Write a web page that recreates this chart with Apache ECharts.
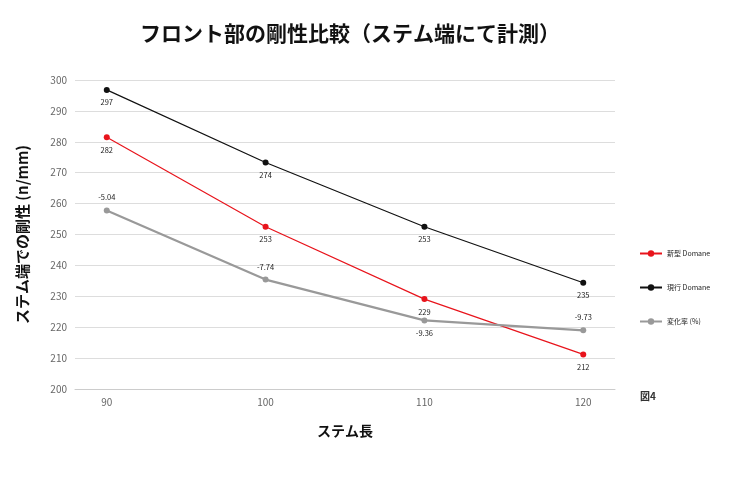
<!DOCTYPE html>
<html><head><meta charset="utf-8">
<script src="https://cdn.jsdelivr.net/npm/echarts@6/dist/echarts.min.js"></script>
<style>body{margin:0}#main{width:730px;height:487px}</style>
</head><body><div id="main"></div>
<script>
var stems = [90, 100, 110, 120]
var newDomane = [281.5, 252.5, 229.1, 211.2]
var newLabels = ['282', '253', '229', '212']
var oldDomane = [296.8, 273.3, 252.5, 234.4]
var oldLabels = ['297', '274', '253', '235']
var ratePlot = [257.8, 235.4, 222.2, 219]
var rateLabels = ['-5.04', '-7.74', '-9.36', '-9.73']
var yTicks = [200, 300, 10]

function pts (vals, labels, pos) {
  return vals.map(function (v, i) {
    return { value: [stems[i], v], label: { formatter: labels[i], position: pos[i] } }
  })
}
var font = 'Noto Sans CJK JP'
var myChart = echarts.init(document.getElementById('main'))
var option = {
  textStyle: { fontFamily: font },
  title: {
    text: 'フロント部の剛性比較（ステム端にて計測）', left: 345, top: 18, textAlign: 'center',
    textStyle: { fontSize: 21, fontWeight: 'bold', color: '#111', fontFamily: font }
  },
  grid: { left: 75, right: 115, top: 80, bottom: 98 },
  legend: {
    orient: 'vertical', left: 634, top: 245, itemGap: 27, itemWidth: 22, itemHeight: 8,
    textStyle: { fontSize: 7, color: '#222' },
    data: ['新型 Domane', '現行 Domane', '変化率 (%)']
  },
  xAxis: {
    type: 'value', min: 88, max: 122, interval: 2,
    name: 'ステム長', nameLocation: 'middle', nameGap: 35,
    nameTextStyle: { fontSize: 14, fontWeight: 'bold', color: '#111' },
    axisLine: { lineStyle: { color: '#ccc' } }, axisTick: { show: false },
    splitLine: { show: false },
    axisLabel: { color: '#666', fontSize: 10, formatter: function (v) { return v % 10 === 0 ? v : '' } }
  },
  yAxis: {
    type: 'value', min: yTicks[0], max: yTicks[1], interval: yTicks[2],
    name: 'ステム端での剛性 (n/mm)', nameLocation: 'middle', nameGap: 45,
    nameTextStyle: { fontSize: 15, fontWeight: 'bold', color: '#111' },
    axisLine: { show: false }, axisTick: { show: false },
    axisLabel: { color: '#666', fontSize: 10 },
    splitLine: { lineStyle: { color: '#ddd' } }
  },
  series: [
    { name: '新型 Domane', type: 'line', color: '#e8141c', symbol: 'circle', symbolSize: 6,
      lineStyle: { width: 1.2 }, label: { show: true, fontSize: 7.5, color: '#222', distance: 6 },
      data: pts(newDomane, newLabels, ['bottom', 'bottom', 'bottom', 'bottom']) },
    { name: '現行 Domane', type: 'line', color: '#111', symbol: 'circle', symbolSize: 6,
      lineStyle: { width: 1.2 }, label: { show: true, fontSize: 7.5, color: '#222', distance: 6 },
      data: pts(oldDomane, oldLabels, ['bottom', 'bottom', 'bottom', 'bottom']) },
    { name: '変化率 (%)', type: 'line', color: '#999', symbol: 'circle', symbolSize: 6,
      lineStyle: { width: 2.2 }, label: { show: true, fontSize: 7.5, color: '#222', distance: 6 },
      data: pts(ratePlot, rateLabels, ['top', 'top', 'bottom', 'top']) }
  ],
  graphic: [{ type: 'text', left: 640, top: 391, style: { text: '図4', fontSize: 10, fontWeight: 'bold', fill: '#333', fontFamily: font } }]
}
myChart.setOption(option)
</script></body></html>
